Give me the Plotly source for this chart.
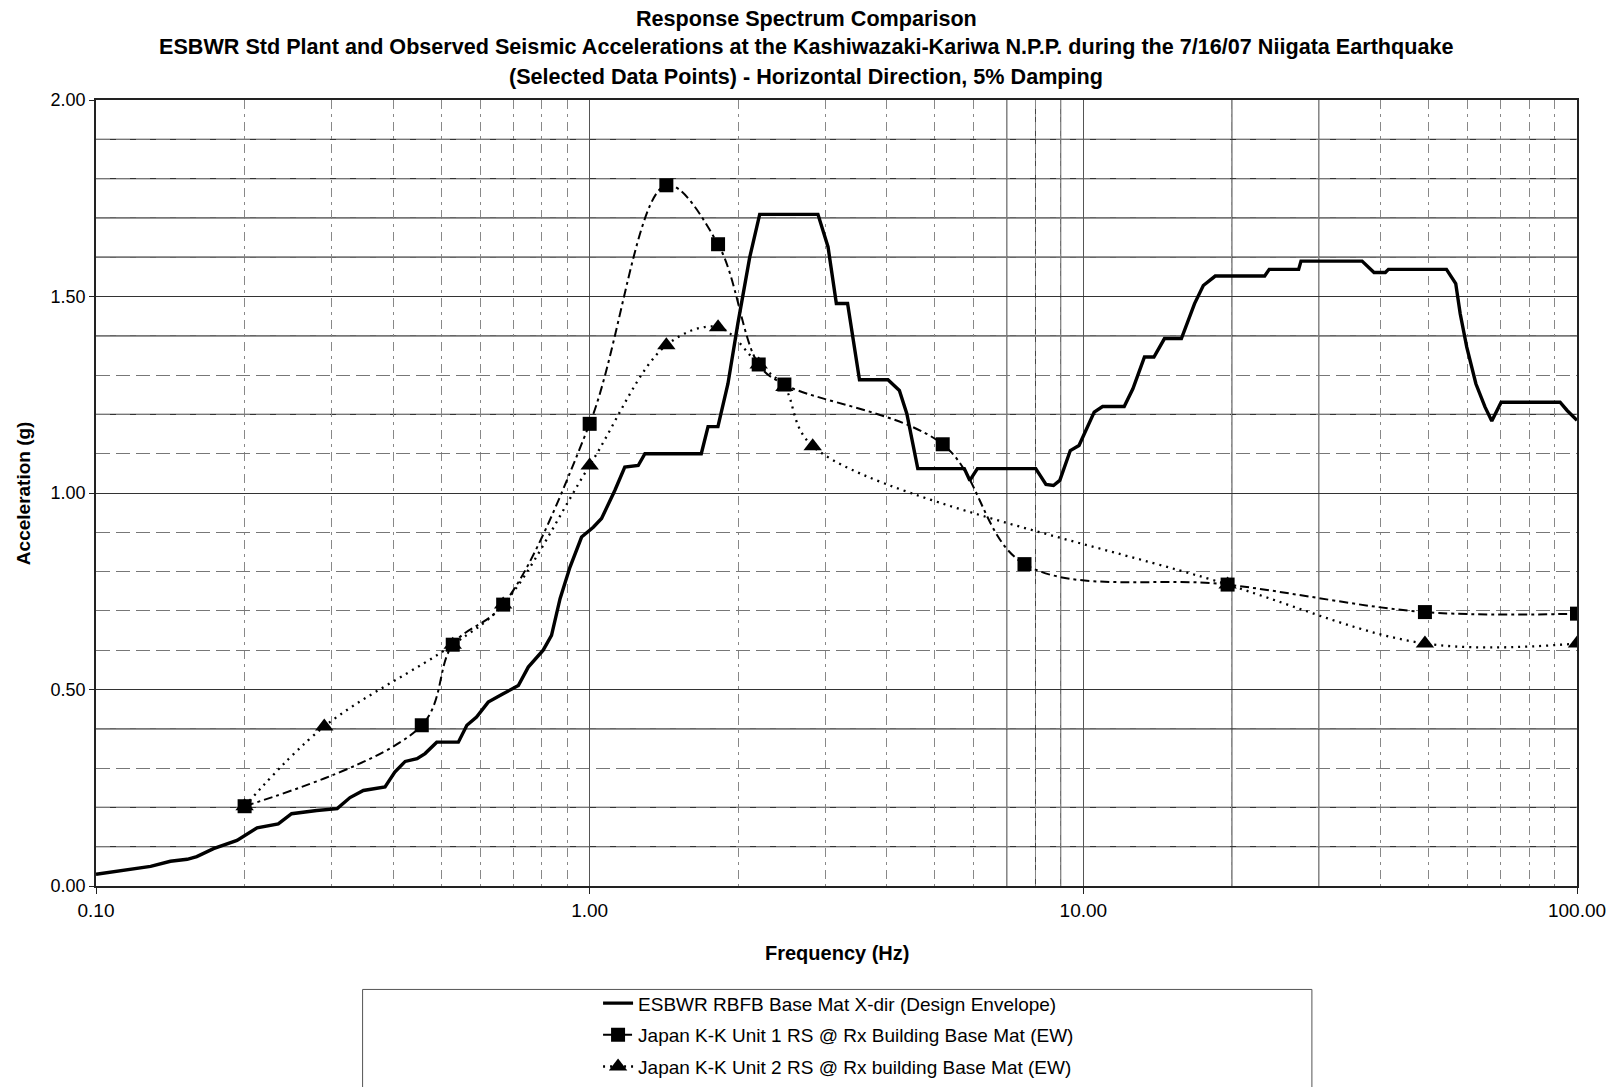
import plotly.graph_objects as go

# ---------------- data ----------------
f_esbwr = [0.1, 0.1138, 0.129, 0.1415, 0.153, 0.160, 0.173, 0.193, 0.212, 0.234, 0.249, 0.280, 0.308,
           0.327, 0.348, 0.385, 0.403, 0.423, 0.447, 0.464, 0.490, 0.542, 0.564, 0.590, 0.623, 0.668,
           0.717, 0.751, 0.805, 0.837, 0.871, 0.912, 0.963, 1.017, 1.057, 1.125, 1.178, 1.254, 1.294,
           1.683, 1.737, 1.819, 1.906, 1.996, 2.11, 2.21, 2.90, 3.04, 3.16, 3.33, 3.52, 4.02, 4.24,
           4.39, 4.62, 5.74, 5.89, 6.10, 8.01, 8.4, 8.7, 8.96, 9.41, 9.80, 10.06, 10.52, 10.94, 12.1,
           12.6, 13.3, 13.9, 14.6, 15.8, 16.8, 17.5, 18.5, 23.3, 23.8, 27.3, 27.6, 36.7, 38.8, 40.9,
           41.5, 54.4, 56.8, 58.0, 59.8, 62.4, 65.1, 67.2, 70.2, 92.4, 95.5, 100]
a_esbwr = [0.030, 0.041, 0.050, 0.063, 0.068, 0.075, 0.095, 0.116, 0.148, 0.158, 0.184, 0.192, 0.197,
           0.225, 0.243, 0.252, 0.290, 0.317, 0.324, 0.337, 0.366, 0.366, 0.409, 0.430, 0.468, 0.489,
           0.510, 0.557, 0.600, 0.638, 0.731, 0.811, 0.888, 0.913, 0.935, 1.007, 1.066, 1.070, 1.100,
           1.100, 1.169, 1.169, 1.278, 1.431, 1.600, 1.709, 1.709, 1.626, 1.482, 1.482, 1.288, 1.288,
           1.261, 1.202, 1.062, 1.062, 1.032, 1.062, 1.062, 1.022, 1.019, 1.032, 1.108, 1.121, 1.151,
           1.206, 1.220, 1.220, 1.265, 1.346, 1.346, 1.393, 1.393, 1.482, 1.528, 1.552, 1.552, 1.569,
           1.569, 1.590, 1.590, 1.561, 1.561, 1.569, 1.569, 1.533, 1.456, 1.371, 1.278, 1.219, 1.183,
           1.231, 1.231, 1.210, 1.185]

f_unit1 = [0.2, 0.457, 0.528, 0.668, 1.0, 1.43, 1.82, 2.2, 2.48, 5.19, 7.6, 19.6, 49.2, 100]
a_unit1 = [0.203, 0.409, 0.614, 0.716, 1.176, 1.783, 1.633, 1.327, 1.276, 1.124, 0.819, 0.767, 0.697, 0.693]

f_unit2 = [0.2, 0.29, 0.528, 0.668, 1.0, 1.43, 1.82, 2.2, 2.48, 2.83, 19.6, 49.2, 100]
a_unit2 = [0.203, 0.406, 0.614, 0.716, 1.070, 1.376, 1.422, 1.327, 1.270, 1.119, 0.767, 0.617, 0.617]

x_tickvals = [0.1, 1, 10, 100]
x_ticktext = ["0.10", "1.00", "10.00", "100.00"]
y_tickvals = [0, 0.5, 1.0, 1.5, 2.0]
y_ticktext = ["0.00", "0.50", "1.00", "1.50", "2.00"]
x_minor = [0.2, 0.3, 0.4, 0.5, 0.6, 0.7, 0.8, 0.9, 2, 3, 4, 5, 6, 7, 8, 9,
           20, 30, 40, 50, 60, 70, 80, 90]
solid_vlines = [7, 8, 9, 20, 30]
solid_hlines = [0.1, 0.2, 0.4, 1.2, 1.4, 1.6, 1.7, 1.8, 1.9]

names = ["ESBWR RBFB Base Mat X-dir (Design Envelope)",
         "Japan K-K Unit 1 RS @ Rx Building Base Mat (EW)",
         "Japan K-K Unit 2 RS @ Rx building Base Mat (EW)"]
title_lines = ["Response Spectrum Comparison",
               "ESBWR Std Plant and Observed Seismic Accelerations at the Kashiwazaki-Kariwa N.P.P. during the 7/16/07 Niigata Earthquake",
               "(Selected Data Points) - Horizontal Direction, 5% Damping"]

FONT = "Liberation Sans, Arial, sans-serif"

fig = go.Figure()

fig.add_trace(go.Scatter(
    x=f_esbwr, y=a_esbwr, mode="lines", name=names[0],
    line=dict(color="black", width=3.4), legendrank=1, legendgroup="a"))

fig.add_trace(go.Scatter(
    x=f_unit2, y=a_unit2, mode="lines+markers", name=names[2],
    line=dict(color="black", width=2.3, dash="2px,5px", shape="spline", smoothing=1.0),
    marker=dict(symbol="triangle-up", size=16, color="black"),
    legendrank=3, legendgroup="c"))

fig.add_trace(go.Scatter(
    x=f_unit1, y=a_unit1, mode="lines+markers", name=names[1],
    line=dict(color="black", width=2, dash="9px,4px,3px,4px", shape="spline", smoothing=1.0),
    marker=dict(symbol="square", size=14, color="black"),
    legendrank=2, legendgroup="b"))

shapes = []
for v in solid_vlines:
    shapes.append(dict(type="line", xref="x", yref="paper", x0=v, x1=v,
                       y0=0, y1=1, layer="below", line=dict(color="#444", width=1)))
for h in solid_hlines:
    shapes.append(dict(type="line", xref="paper", yref="y", x0=0, x1=1, y0=h, y1=h,
                       layer="below", line=dict(color="#333", width=1.2)))
# legend frame
shapes.append(dict(type="rect", xref="paper", yref="paper", x0=0.18, x1=0.821,
                   y0=-0.30, y1=-0.1316, line=dict(color="#555", width=1), fillcolor="rgba(0,0,0,0)"))

annotations = []
for yy, t in zip([1.1032, 1.068, 1.0303], title_lines):
    annotations.append(dict(text=t, xref="paper", yref="paper", x=0.4796, y=yy,
                            xanchor="center", yanchor="middle", showarrow=False,
                            font=dict(family=FONT, size=21.6, color="black", weight="bold")))
annotations.append(dict(text="Acceleration (g)", xref="paper", yref="paper", x=-0.0492, y=0.5,
                        textangle=-90, xanchor="center", yanchor="middle", showarrow=False,
                        font=dict(family=FONT, size=19, color="black", weight="bold")))
annotations.append(dict(text="Frequency (Hz)", xref="paper", yref="paper", x=0.5005, y=-0.085,
                        xanchor="center", yanchor="middle", showarrow=False,
                        font=dict(family=FONT, size=20, color="black", weight="bold")))

fig.update_layout(
    width=1611, height=1087,
    margin=dict(l=96, r=34, t=100, b=201, autoexpand=False),
    paper_bgcolor="white", plot_bgcolor="white",
    font=dict(family=FONT, size=17, color="black"),
    showlegend=True,
    legend=dict(x=0.339, y=-0.125, xanchor="left", yanchor="top",
                traceorder="grouped", tracegroupgap=4,
                font=dict(family=FONT, size=19, color="black"),
                bgcolor="rgba(0,0,0,0)", itemwidth=30),
    shapes=shapes, annotations=annotations,
    xaxis=dict(type="log", range=[-1, 2], tickvals=x_tickvals, ticktext=x_ticktext,
               showline=True, linecolor="#222", linewidth=1.5, mirror=True,
               ticks="outside", ticklen=6, tickcolor="#222",
               showgrid=True, gridcolor="#555", gridwidth=1,
               minor=dict(tickvals=x_minor, showgrid=True, gridcolor="#888",
                          griddash="9px,5px,3px,5px", gridwidth=1, ticks=""),
               zeroline=False, tickfont=dict(size=19), automargin=False),
    yaxis=dict(range=[0, 2], tickvals=y_tickvals, ticktext=y_ticktext,
               showline=True, linecolor="#222", linewidth=1.5, mirror=True,
               ticks="outside", ticklen=5, tickcolor="#222",
               showgrid=True, gridcolor="#333", gridwidth=1.2,
               minor=dict(dtick=0.1, showgrid=True, gridcolor="#777",
                          griddash="14px,6px", gridwidth=1, ticks=""),
               zeroline=False, tickfont=dict(size=18), automargin=False),
)

fig.write_html("out.html")
